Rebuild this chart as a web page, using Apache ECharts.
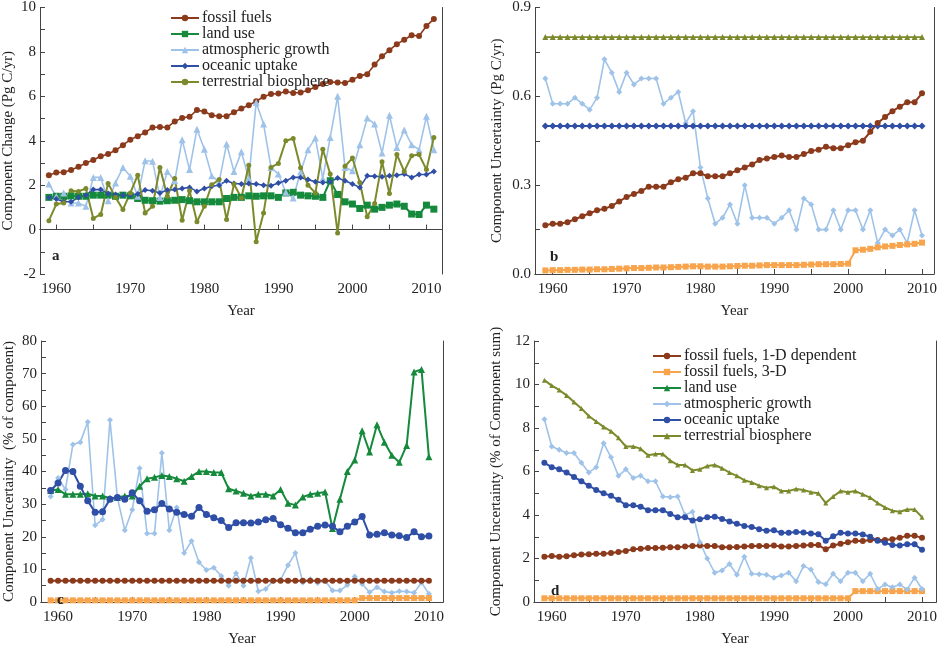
<!DOCTYPE html>
<html>
<head>
<meta charset="utf-8">
<script src="https://cdn.jsdelivr.net/npm/echarts@6/dist/echarts.min.js"></script>
<style>
html,body{margin:0;padding:0;background:#fff;}
#chart{width:940px;height:648px;}
</style>
</head>
<body>
<div id="chart"></div>
<script>
// years
var yearsA = [];
for (var y = 1959; y <= 2011; y++) yearsA.push(y);
var yearsB = yearsA.slice(0, 52);
var tickYears = [1960, 1970, 1980, 1990, 2000, 2010];
var minorYears = [1960, 1965, 1970, 1975, 1980, 1985, 1990, 1995, 2000, 2005, 2010];

// panel a: component change (Pg C/yr), 1959-2011
var aFossil = [2.45,2.57,2.58,2.68,2.83,3.0,3.13,3.3,3.4,3.57,3.8,4.05,4.2,4.37,4.6,4.62,4.6,4.87,5.03,5.08,5.38,5.32,5.15,5.1,5.1,5.28,5.45,5.6,5.78,5.98,6.1,6.13,6.22,6.15,6.17,6.27,6.42,6.55,6.65,6.62,6.6,6.75,6.92,7.0,7.43,7.8,8.08,8.35,8.55,8.75,8.72,9.17,9.48];
var aLand = [1.45,1.5,1.5,1.52,1.5,1.5,1.55,1.55,1.55,1.5,1.55,1.52,1.4,1.32,1.3,1.28,1.3,1.32,1.35,1.3,1.25,1.25,1.25,1.25,1.4,1.45,1.45,1.52,1.5,1.52,1.52,1.45,1.65,1.68,1.55,1.52,1.5,1.45,2.2,1.58,1.25,1.15,0.95,1.1,0.92,1.0,1.1,1.15,1.05,0.7,0.68,1.1,0.92];
var aAtmos = [2.05,1.5,1.65,1.2,1.2,1.05,2.35,2.35,1.3,2.1,2.8,2.4,1.5,3.1,3.08,1.45,2.62,2.2,4.05,2.7,4.52,3.62,2.42,2.15,3.85,2.62,3.5,2.3,5.72,4.75,2.8,2.5,1.68,1.42,2.6,3.6,4.12,2.3,4.15,6.0,2.8,2.65,3.82,5.02,4.75,3.45,5.15,3.7,4.48,3.82,3.6,5.1,3.6];
var aOcean = [1.45,1.38,1.25,1.25,1.45,1.55,1.8,1.8,1.62,1.58,1.55,1.55,1.6,1.78,1.75,1.65,1.78,1.8,1.85,1.9,1.72,1.85,1.95,2.0,2.2,2.08,2.05,2.07,2.05,2.0,1.97,2.1,2.2,2.35,2.35,2.25,2.15,2.12,2.15,2.32,2.2,2.05,1.9,2.42,2.4,2.38,2.42,2.45,2.5,2.35,2.48,2.48,2.62];
var aTerr = [0.4,1.15,1.2,1.75,1.72,1.85,0.5,0.68,2.08,1.45,0.9,1.65,2.45,0.75,1.05,2.8,1.5,2.3,0.42,1.75,0.35,1.05,2.02,2.25,0.45,2.05,1.42,2.9,-0.55,0.75,2.8,2.98,4.0,4.1,2.78,2.0,1.65,3.62,2.5,-0.15,2.85,3.22,2.12,0.58,1.18,3.05,1.62,3.38,2.62,3.32,3.38,2.7,4.15];

// panel b: component uncertainty (Pg C/yr), 1959-2010
var bTerrValue = 0.8;
var bOceanValue = 0.5;
var bFossil = [0.165,0.17,0.17,0.175,0.185,0.195,0.205,0.215,0.22,0.23,0.245,0.26,0.27,0.28,0.295,0.295,0.295,0.31,0.32,0.325,0.34,0.34,0.33,0.33,0.33,0.34,0.35,0.36,0.37,0.385,0.39,0.395,0.4,0.395,0.395,0.405,0.415,0.42,0.43,0.425,0.425,0.435,0.445,0.45,0.48,0.51,0.53,0.55,0.565,0.58,0.58,0.61];
var bFossil3D = [0.012,0.013,0.013,0.014,0.014,0.015,0.015,0.016,0.016,0.017,0.018,0.019,0.02,0.02,0.021,0.022,0.022,0.023,0.024,0.025,0.026,0.026,0.025,0.025,0.025,0.026,0.027,0.028,0.028,0.029,0.03,0.03,0.03,0.03,0.03,0.031,0.032,0.033,0.033,0.033,0.034,0.035,0.08,0.082,0.085,0.09,0.093,0.095,0.098,0.1,0.102,0.106];
var bAtmos = [0.66,0.575,0.575,0.575,0.595,0.575,0.555,0.595,0.725,0.68,0.615,0.68,0.64,0.66,0.66,0.66,0.575,0.595,0.615,0.51,0.55,0.36,0.255,0.17,0.19,0.235,0.17,0.3,0.19,0.19,0.19,0.17,0.19,0.215,0.15,0.255,0.235,0.15,0.15,0.215,0.15,0.215,0.215,0.15,0.215,0.105,0.15,0.13,0.15,0.105,0.215,0.13];

// panel c: component uncertainty (% of component)
var cFossilValue = 6.5;
var cFossil3DBefore = 0.5, cFossil3DAfter = 1.2;
var cLand = [34.2,34.5,33,33,33,33.2,32.5,32.5,31.8,32,32.5,32.5,35.5,37.8,38.2,38.8,38.5,37.8,37,38.5,40,40,39.7,39.7,34.7,34,33.3,32.5,33,33,32.5,34.5,30.3,29.7,32.2,33,33.3,33.7,22.5,31.5,40,43.5,52.5,46,54.3,49,45,42.8,48,70.5,71.3,44.5];
var cOcean = [34.2,36.5,40.3,40,35.5,31,27.5,27.7,31.5,32,31.5,33.5,31,27.8,28.3,30.2,28.5,27.5,26.8,26.3,29,26.8,25.8,25,22.8,24.3,24.3,24.2,24.5,25.2,25.6,23.7,22.6,21.2,21.2,22.3,23.2,23.6,23.2,21.5,23.2,24.5,26.2,20.5,20.8,21.2,20.5,20.3,19.8,21.5,20,20.2];
var cAtmos = [32.3,38,34.5,48.3,49,55.2,23.5,25.3,55.8,32,22,28.3,41,21,21,45.7,22,29,15,18.7,12.2,9.8,10.5,8,5,8.8,5,13.5,3.3,4,6.5,6.8,11.3,15,6,7,5.8,6.5,3.5,3.5,5.2,7.8,5.5,3,4.5,3.2,2.8,3.3,3.2,2.8,6,2.5];

// panel d: component uncertainty (% of component sum)
var dFossil = [2.08,2.12,2.08,2.1,2.15,2.18,2.2,2.22,2.22,2.25,2.3,2.35,2.42,2.45,2.48,2.48,2.5,2.52,2.52,2.55,2.58,2.6,2.58,2.58,2.52,2.52,2.53,2.55,2.57,2.58,2.58,2.6,2.55,2.55,2.58,2.6,2.62,2.62,2.42,2.6,2.68,2.75,2.82,2.8,2.85,2.85,2.85,2.88,2.95,3.05,3.05,2.95];
var dFossil3DBefore = 0.17, dFossil3DAfter = 0.5;
var dAtmos = [8.4,7.15,7.0,6.85,6.85,6.4,5.95,6.2,7.3,6.65,5.8,6.1,5.7,5.8,5.55,5.55,4.85,4.82,4.85,4.0,4.15,2.75,2.0,1.35,1.45,1.75,1.25,2.08,1.3,1.28,1.25,1.12,1.22,1.35,0.95,1.65,1.5,0.92,0.82,1.3,0.95,1.35,1.35,0.95,1.3,0.6,0.8,0.68,0.8,0.58,1.12,0.6];
var dOcean = [6.4,6.2,6.1,5.95,5.75,5.55,5.35,5.15,5.0,4.88,4.7,4.45,4.45,4.38,4.22,4.22,4.22,4.05,3.9,3.9,3.75,3.8,3.9,3.92,3.82,3.7,3.6,3.5,3.45,3.35,3.28,3.3,3.18,3.18,3.22,3.2,3.15,3.12,2.82,3.02,3.18,3.15,3.15,3.1,3.0,2.82,2.72,2.62,2.6,2.65,2.65,2.4];
var dTerr = [10.2,9.95,9.75,9.5,9.2,8.9,8.55,8.3,8.05,7.85,7.55,7.15,7.15,7.05,6.75,6.8,6.8,6.5,6.3,6.3,6.05,6.1,6.25,6.3,6.15,5.95,5.8,5.6,5.5,5.35,5.25,5.3,5.1,5.1,5.2,5.15,5.05,5.0,4.55,4.85,5.1,5.05,5.1,4.95,4.8,4.55,4.35,4.2,4.15,4.25,4.25,3.9];

var C = {
	fossil:'#8b3a1c', land:'#168a3c', atmos:'#9fc3e8', ocean:'#2f4ea6', terr:'#7d8a2c', f3d:'#f7a44c'
};
var FONT = 'Liberation Serif';

var pairs = function(years, vals){
	var out = [];
	for( var i = 0; i < years.length; i++ ){
		out.push( [years[i], vals[i]] );
	}
	return out;
};
var constant = function(years, v){
	return years.map( function(y){ return [y, v]; } );
};
var step = function(years, before, after){
	return years.map( function(y){ return [y, y <= 2000 ? before : after]; } );
};

var grids = [
	{left:40, top:6, width:402, height:268},
	{left:535, top:6, width:402, height:268},
	{left:41, top:341, width:402, height:269},
	{left:534, top:341, width:403, height:268}
];
var xRanges = [[1957.8, 2012.1], [1957.6, 2011.6], [1957.7, 2011.9], [1957.6, 2011.9]];
var yCfg = [
	{min:-2, max:10, interval:2, name:'Component Change (Pg C/yr)', fmt:null},
	{min:0, max:0.9, interval:0.3, name:'Component Uncertainty (Pg C/yr)', fmt:function(v){ return v.toFixed(1); }},
	{min:0, max:80, interval:10, name:'Component Uncertainty  (% of component)', fmt:null},
	{min:0, max:12, interval:2, name:'Component Uncertainty (% of Component sum)', fmt:null}
];
var yNameGap = [24, 30, 24, 30];

var axisLine = {show:true, lineStyle:{color:'#444', width:1}};
var xAxes = [], yAxes = [];
for( var g = 0; g < 4; g++ ){
	xAxes.push( {
		gridIndex:g, type:'value', min:xRanges[g][0], max:xRanges[g][1],
		name:'Year', nameLocation:'middle', nameGap:30,
		nameTextStyle:{fontFamily:FONT, fontSize:15, color:'#222'},
		axisLine:axisLine,
		axisTick:{show:true, inside:true, length:5, customValues:minorYears, lineStyle:{color:'#444'}},
		axisLabel:{customValues:tickYears, fontFamily:FONT, fontSize:15, color:'#222', margin:8,
			formatter:function(v){ return String(Math.round(v)); }},
		splitLine:{show:false}
	} );
	xAxes.push( {
		gridIndex:g, type:'value', position:'top', min:xRanges[g][0], max:xRanges[g][1],
		axisLine:axisLine, axisTick:{show:false}, axisLabel:{show:false}, splitLine:{show:false}
	} );
	yAxes.push( {
		gridIndex:g, type:'value', min:yCfg[g].min, max:yCfg[g].max, interval:yCfg[g].interval,
		name:yCfg[g].name, nameLocation:'middle', nameGap:yNameGap[g],
		nameTextStyle:{fontFamily:FONT, fontSize:15, color:'#222'},
		axisLine:axisLine,
		axisTick:{show:true, inside:true, length:5, lineStyle:{color:'#444'}},
		minorTick:{show:true, splitNumber:2, length:5, lineStyle:{color:'#444'}},
		axisLabel:{fontFamily:FONT, fontSize:15, color:'#222', margin:4, formatter:yCfg[g].fmt || undefined},
		splitLine:{show:false}
	} );
	yAxes.push( {
		gridIndex:g, type:'value', position:'right', min:yCfg[g].min, max:yCfg[g].max,
		axisLine:axisLine, axisTick:{show:false}, axisLabel:{show:false}, splitLine:{show:false}
	} );
}

var mk = function(g, name, color, symbol, size, data, width){
	return {
		name:name, type:'line', xAxisIndex:g * 2, yAxisIndex:g * 2,
		data:data, symbol:symbol, symbolSize:size, showSymbol:true,
		lineStyle:{color:color, width:width || 1.6},
		itemStyle:{color:color}, animation:false, z:3
	};
};
// legend names must be unique per panel
var series = [
	mk(0, 'fossil fuels', C.fossil, 'circle', 6, pairs(yearsA, aFossil)),
	mk(0, 'land use', C.land, 'rect', 7, pairs(yearsA, aLand), 2),
	mk(0, 'atmospheric growth', C.atmos, 'triangle', 7, pairs(yearsA, aAtmos)),
	mk(0, 'oceanic uptake', C.ocean, 'diamond', 6, pairs(yearsA, aOcean)),
	mk(0, 'terrestrial biosphere', C.terr, 'circle', 5, pairs(yearsA, aTerr), 2),

	mk(1, 'b terr', C.terr, 'triangle', 6, constant(yearsB, bTerrValue)),
	mk(1, 'b atmos', C.atmos, 'diamond', 6, pairs(yearsB, bAtmos)),
	mk(1, 'b ocean', C.ocean, 'diamond', 7, constant(yearsB, bOceanValue), 2),
	mk(1, 'b fossil', C.fossil, 'circle', 6, pairs(yearsB, bFossil), 2),
	mk(1, 'b f3d', C.f3d, 'rect', 6, pairs(yearsB, bFossil3D), 2),

	mk(2, 'c atmos', C.atmos, 'diamond', 6, pairs(yearsB, cAtmos)),
	mk(2, 'c land', C.land, 'triangle', 7, pairs(yearsB, cLand), 2),
	mk(2, 'c ocean', C.ocean, 'circle', 7, pairs(yearsB, cOcean), 2),
	mk(2, 'c fossil', C.fossil, 'circle', 6, constant(yearsB, cFossilValue), 2),
	mk(2, 'c f3d', C.f3d, 'rect', 6, step(yearsB, cFossil3DBefore, cFossil3DAfter), 2),

	mk(3, 'fossil fuels, 1-D dependent', C.fossil, 'circle', 6, pairs(yearsB, dFossil), 2),
	mk(3, 'fossil fuels, 3-D', C.f3d, 'rect', 6, step(yearsB, dFossil3DBefore, dFossil3DAfter), 2),
	mk(3, 'land use ', C.land, 'triangle', 6, []),
	mk(3, 'atmospheric growth ', C.atmos, 'diamond', 6, pairs(yearsB, dAtmos)),
	mk(3, 'oceanic uptake ', C.ocean, 'circle', 6, pairs(yearsB, dOcean), 2),
	mk(3, 'terrestrial biosphere ', C.terr, 'triangle', 5, pairs(yearsB, dTerr), 2)
];

var legendBase = {
	orient:'vertical', itemWidth:28, itemHeight:8, itemGap:0,
	textStyle:{fontFamily:FONT, fontSize:16, color:'#222', padding:[0,0,0,-2], lineHeight:13}
};
var legends = [
	Object.assign( {}, legendBase, {left:165, top:5, data:['fossil fuels','land use','atmospheric growth','oceanic uptake','terrestrial biosphere']} ),
	Object.assign( {}, legendBase, {left:647, top:343, data:['fossil fuels, 1-D dependent','fossil fuels, 3-D','land use ','atmospheric growth ','oceanic uptake ','terrestrial biosphere ']} )
];

var label = function(txt, x, y){
	return {type:'text', left:x, top:y, z:10, style:{text:txt, font:'bold 15px "Liberation Serif"', fill:'#222'}};
};

var chart = echarts.init( document.getElementById( 'chart' ) );
chart.setOption( {
	backgroundColor:'#fff',
	animation:false,
	grid:grids,
	xAxis:xAxes,
	yAxis:yAxes,
	legend:legends,
	graphic:[label('a', 52, 249), label('b', 550, 250), label('c', 57, 593), label('d', 551, 584)],
	series:series
} );
</script>
</body>
</html>
